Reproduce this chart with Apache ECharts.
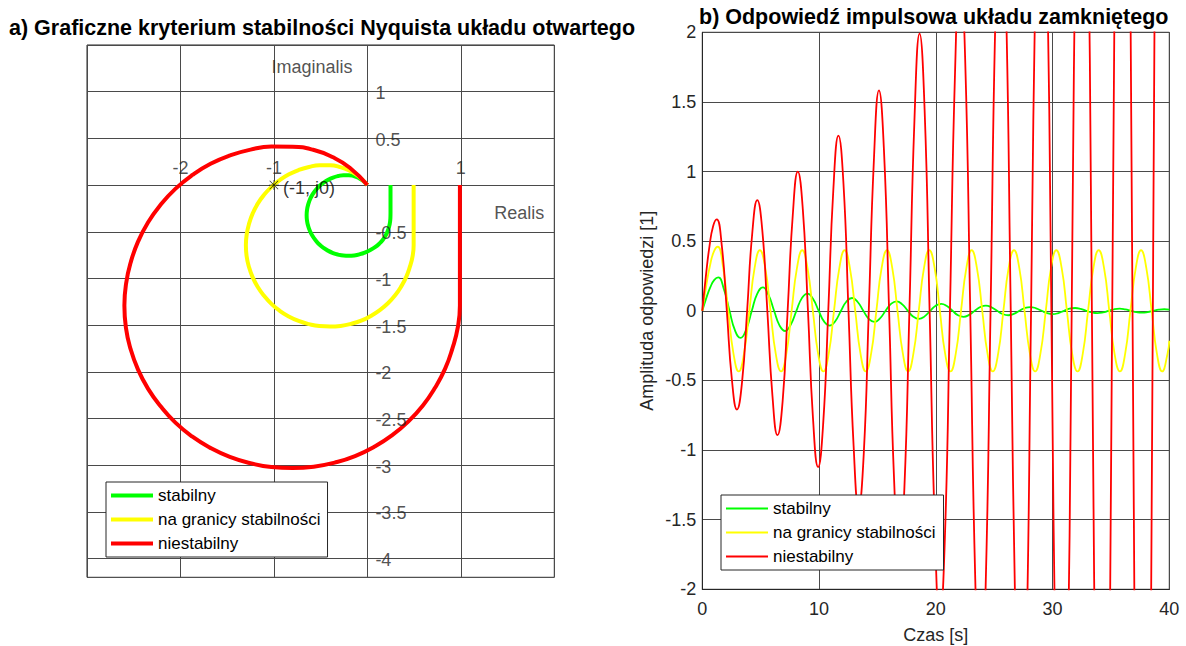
<!DOCTYPE html>
<html>
<head>
<meta charset="utf-8">
<script src="https://cdn.jsdelivr.net/npm/echarts@6/dist/echarts.min.js"></script>
<style>
html,body{margin:0;padding:0;background:#fff;}
#chart{width:1186px;height:646px;}
</style>
</head>
<body>
<div id="chart"></div>
<script>
// ---------- names / ticks ----------
const seriesNames = ['stabilny', 'na granicy stabilności', 'niestabilny'];
const nyqXTicks = [-3, -2, -1, 0, 1, 2];
const nyqXLabels = [-2, -1, 1];
const nyqYTicks = [-4, -3.5, -3, -2.5, -2, -1.5, -1, -0.5, 0, 0.5, 1, 1.5];
const nyqYLabels = [-4, -3.5, -3, -2.5, -2, -1.5, -1, -0.5, 0.5, 1];

// ---------- Nyquist curves (Re, Im) ----------
const nyqStable = [[0.2475,0],[0.2475,-0.1],[0.2475,-0.2],[0.2475,-0.3],[0.246,-0.36],[0.238,-0.42],[0.222,-0.48],[0.198,-0.535],[0.166,-0.585],[0.127,-0.628],[0.082,-0.665],[0.032,-0.695],[-0.022,-0.72],[-0.08,-0.74],[-0.14,-0.753],[-0.20,-0.7575],[-0.257,-0.755],[-0.313,-0.7445],[-0.368,-0.7275],[-0.42,-0.7035],[-0.469,-0.673],[-0.5135,-0.636],[-0.5525,-0.593],[-0.5865,-0.5455],[-0.6135,-0.494],[-0.6335,-0.4385],[-0.646,-0.3815],[-0.65,-0.3225],[-0.6455,-0.264],[-0.633,-0.2065],[-0.6135,-0.1515],[-0.5865,-0.0995],[-0.5525,-0.052],[-0.513,-0.0095],[-0.468,0.027],[-0.4195,0.0575],[-0.367,0.081],[-0.3125,0.097],[-0.2565,0.1065],[-0.20,0.1065],[-0.145,0.0965],[-0.0935,0.076],[-0.047,0.047],[0,0]];
const nyqBoundary = [[0.495,0],[0.495,-0.2],[0.495,-0.4],[0.495,-0.55],[0.495,-0.645],[0.484,-0.761],[0.455,-0.874],[0.416,-0.983],[0.362,-1.085],[0.297,-1.18],[0.22,-1.265],[0.133,-1.339],[0.037,-1.401],[-0.066,-1.451],[-0.175,-1.486],[-0.287,-1.508],[-0.40,-1.515],[-0.514,-1.51],[-0.626,-1.489],[-0.736,-1.455],[-0.84,-1.407],[-0.938,-1.346],[-1.027,-1.272],[-1.105,-1.186],[-1.173,-1.091],[-1.227,-0.988],[-1.267,-0.877],[-1.292,-0.763],[-1.30,-0.645],[-1.291,-0.528],[-1.266,-0.413],[-1.227,-0.303],[-1.173,-0.199],[-1.105,-0.104],[-1.026,-0.019],[-0.936,0.054],[-0.839,0.115],[-0.734,0.162],[-0.625,0.194],[-0.513,0.213],[-0.40,0.213],[-0.29,0.193],[-0.187,0.152],[-0.094,0.094],[0,0]];
const nyqUnstable = [[0.99,0],[0.99,-0.4],[0.99,-0.8],[0.99,-1.1],[0.99,-1.29],[0.968,-1.522],[0.91,-1.748],[0.832,-1.966],[0.724,-2.17],[0.594,-2.36],[0.44,-2.53],[0.266,-2.678],[0.074,-2.802],[-0.132,-2.902],[-0.35,-2.972],[-0.574,-3.016],[-0.80,-3.03],[-1.028,-3.02],[-1.252,-2.978],[-1.472,-2.91],[-1.68,-2.814],[-1.876,-2.692],[-2.054,-2.544],[-2.21,-2.372],[-2.346,-2.182],[-2.454,-1.976],[-2.534,-1.754],[-2.584,-1.526],[-2.60,-1.29],[-2.582,-1.056],[-2.532,-0.826],[-2.454,-0.606],[-2.346,-0.398],[-2.21,-0.208],[-2.052,-0.038],[-1.872,0.108],[-1.678,0.228],[-1.468,0.318],[-1.25,0.38],[-1.026,0.412],[-0.80,0.41],[-0.58,0.378],[-0.374,0.30],[-0.188,0.186],[0,0]];
const criticalPoint = [[-1, 0]];
const criticalLabel = '(-1, j0)';
const axisTexts = [[-1.025, 1.26, 'Imaginalis'], [1.357, -0.30, 'Realis']];

// ---------- impulse responses (t [s], y) ----------
const respStable = [[0,0],[0.34,0.091],[0.69,0.17],[1.03,0.222],[1.37,0.24],[1.85,0.155],[2.33,0],[2.80,-0.141],[3.28,-0.195],[3.76,-0.133],[4.24,0],[4.71,0.123],[5.19,0.168],[5.67,0.114],[6.15,0],[6.62,-0.106],[7.10,-0.145],[7.58,-0.098],[8.06,0],[8.53,0.091],[9.01,0.124],[9.49,0.084],[9.97,0],[10.44,-0.078],[10.92,-0.107],[11.40,-0.073],[11.88,0],[12.35,0.067],[12.83,0.092],[13.31,0.063],[13.79,0],[14.26,-0.058],[14.74,-0.079],[15.22,-0.054],[15.70,0],[16.17,0.050],[16.65,0.068],[17.13,0.046],[17.61,0],[18.08,-0.043],[18.56,-0.058],[19.04,-0.040],[19.52,0],[19.99,0.037],[20.47,0.050],[20.95,0.034],[21.43,0],[21.90,-0.032],[22.38,-0.043],[22.86,-0.029],[23.34,0],[23.81,0.027],[24.29,0.037],[24.77,0.025],[25.25,0],[25.72,-0.023],[26.20,-0.032],[26.68,-0.022],[27.16,0],[27.63,0.020],[28.11,0.027],[28.59,0.018],[29.07,0],[29.54,-0.017],[30.02,-0.024],[30.50,-0.016],[30.98,0],[31.45,0.015],[31.93,0.020],[32.41,0.014],[32.89,0],[33.36,-0.012],[33.84,-0.017],[34.32,-0.012],[34.80,0],[35.27,0.011],[35.75,0.015],[36.23,0.010],[36.71,0],[37.18,-0.009],[37.66,-0.013],[38.14,-0.009],[38.62,0],[39.09,0.008],[39.57,0.011],[40,0.008]];
const respBoundary = [[0,0],[0.33,0.176],[0.66,0.325],[0.99,0.425],[1.32,0.46],[1.77,0.32],[2.22,0],[2.67,-0.307],[3.12,-0.435],[3.57,-0.308],[4.03,0],[4.48,0.308],[4.93,0.435],[5.39,0.308],[5.84,0],[6.29,-0.308],[6.75,-0.435],[7.20,-0.308],[7.65,0],[8.11,0.308],[8.56,0.435],[9.01,0.308],[9.47,0],[9.92,-0.308],[10.37,-0.435],[10.83,-0.308],[11.28,0],[11.74,0.308],[12.19,0.435],[12.64,0.308],[13.10,0],[13.55,-0.308],[14.00,-0.435],[14.46,-0.308],[14.91,0],[15.36,0.308],[15.82,0.435],[16.27,0.308],[16.72,0],[17.18,-0.308],[17.63,-0.435],[18.08,-0.308],[18.54,0],[18.99,0.308],[19.44,0.435],[19.90,0.308],[20.35,0],[20.80,-0.308],[21.26,-0.435],[21.71,-0.308],[22.16,0],[22.62,0.308],[23.07,0.435],[23.52,0.308],[23.98,0],[24.43,-0.308],[24.88,-0.435],[25.34,-0.308],[25.79,0],[26.24,0.308],[26.70,0.435],[27.15,0.308],[27.60,0],[28.06,-0.308],[28.51,-0.435],[28.96,-0.308],[29.42,0],[29.87,0.308],[30.32,0.435],[30.78,0.308],[31.23,0],[31.68,-0.308],[32.14,-0.435],[32.59,-0.308],[33.04,0],[33.50,0.308],[33.95,0.435],[34.41,0.308],[34.86,0],[35.31,-0.308],[35.77,-0.435],[36.22,-0.308],[36.67,0],[37.13,0.308],[37.58,0.435],[38.03,0.308],[38.49,0],[38.94,-0.308],[39.39,-0.435],[39.85,-0.308],[40,-0.215]];
const respUnstable = [[0,0],[0.31,0.253],[0.62,0.467],[0.92,0.606],[1.23,0.657],[1.66,0.475],[2.10,0],[2.53,-0.49],[2.97,-0.709],[3.40,-0.516],[3.84,0],[4.27,0.548],[4.71,0.795],[5.14,0.578],[5.57,0],[6.01,-0.612],[6.44,-0.893],[6.88,-0.650],[7.31,0],[7.75,0.688],[8.18,1.0],[8.61,0.728],[9.05,0],[9.48,-0.770],[9.92,-1.122],[10.35,-0.816],[10.79,0],[11.22,0.864],[11.66,1.258],[12.09,0.916],[12.52,0],[12.96,-0.969],[13.39,-1.411],[13.83,-1.027],[14.26,0],[14.70,1.087],[15.13,1.583],[15.56,1.152],[16.00,0],[16.43,-1.219],[16.87,-1.775],[17.30,-1.292],[17.74,0],[18.17,1.367],[18.61,1.991],[19.04,1.448],[19.47,0],[19.91,-1.533],[20.34,-2.233],[20.78,-1.625],[21.21,0],[21.65,1.720],[22.08,2.505],[22.51,1.822],[22.95,0],[23.38,-1.929],[23.82,-2.810],[24.25,-2.045],[24.69,0],[25.12,2.164],[25.56,3.151],[25.99,2.293],[26.42,0],[26.86,-2.427],[27.29,-3.534],[27.73,-2.571],[28.16,0],[28.60,2.722],[29.03,3.964],[29.46,2.884],[29.90,0],[30.33,-3.053],[30.77,-4.446],[31.20,-3.235],[31.64,0],[32.07,3.425],[32.51,4.987],[32.94,3.628],[33.37,0],[33.81,-3.841],[34.24,-5.593],[34.68,-4.069],[35.11,0],[35.55,4.308],[35.98,6.273],[36.41,4.564],[36.85,0],[37.28,-4.832],[37.72,-7.036],[38.15,-5.119],[38.59,0],[39.02,5.419],[39.46,7.891],[39.89,5.741],[40,4.54]];

const FONT = "'Liberation Sans', Arial, Helvetica, sans-serif";
const TXT = '#262626';
const GRIDC = '#4a4a4a';
const asteriskPath = 'path://M9.3 0 L10.7 0 L10.7 20 L9.3 20 Z M0 9.3 L20 9.3 L20 10.7 L0 10.7 Z M2 1 L19 18 L18 19 L1 2 Z M18 1 L19 2 L2 19 L1 18 Z';

const chart = echarts.init(document.getElementById('chart'), null, {renderer: 'svg'});

function nyqLine(name, data, color) {
  return {name, type: 'line', xAxisIndex: 0, yAxisIndex: 0, data, smooth: 0.5,
    symbol: 'none', lineStyle: {color, width: 4}, itemStyle: {color}, z: 3, silent: true};
}
function respLine(name, data, color) {
  return {name, type: 'line', xAxisIndex: 1, yAxisIndex: 1, data, smooth: 0.5,
    symbol: 'none', lineStyle: {color, width: 1.8}, itemStyle: {color}, z: 3, clip: true, silent: true};
}
const legendBase = {
  orient: 'vertical', icon: 'rect', itemWidth: 42, itemGap: 7, selectedMode: false,
  backgroundColor: '#fff', borderColor: '#262626', borderWidth: 1,
  textStyle: {fontSize: 17, color: '#000', fontFamily: FONT}, data: seriesNames, z: 10
};
const tickLabelStyle = {fontSize: 18, color: TXT, fontFamily: FONT};

chart.setOption({
  animation: false,
  textStyle: {fontFamily: FONT},
  title: [
    {text: 'a) Graficzne kryterium stabilności Nyquista układu otwartego', left: 9, top: 17, padding: 0,
     textStyle: {fontSize: 21.5, fontWeight: 'bold', color: '#000', fontFamily: FONT}},
    {text: 'b) Odpowiedź impulsowa układu zamkniętego', left: 699, top: 6, padding: 0,
     textStyle: {fontSize: 21.5, fontWeight: 'bold', color: '#000', fontFamily: FONT}}
  ],
  legend: [
    Object.assign({}, legendBase, {left: 106, top: 482, itemHeight: 4, padding: [5, 7, 5, 5]}),
    Object.assign({}, legendBase, {left: 721, top: 495, itemHeight: 2, padding: [5, 8, 5, 5]})
  ],
  grid: [
    {left: 87, top: 45, width: 467.3, height: 532.3, show: true, borderColor: '#262626', borderWidth: 1,
     backgroundColor: '#fff', containLabel: false, outerBoundsMode: 'none'},
    {left: 702.3, top: 32.3, width: 467, height: 557, show: true, borderColor: '#262626', borderWidth: 1,
     backgroundColor: '#fff', containLabel: false, outerBoundsMode: 'none'}
  ],
  xAxis: [
    {gridIndex: 0, type: 'value', min: -3, max: 2, interval: 1,
     axisLine: {show: false},
     axisTick: {show: false, customValues: nyqXTicks},
     axisLabel: {show: false},
     splitLine: {show: true, lineStyle: {color: GRIDC, width: 1}}},
    {gridIndex: 1, type: 'value', min: 0, max: 40, interval: 10,
     name: 'Czas [s]', nameLocation: 'middle', nameGap: 37,
     nameTextStyle: tickLabelStyle,
     axisLine: {show: true, onZero: false, lineStyle: {color: '#262626'}},
     axisTick: {show: false},
     axisLabel: Object.assign({margin: 11}, tickLabelStyle),
     splitLine: {show: true, lineStyle: {color: GRIDC, width: 1}}}
  ],
  yAxis: [
    {gridIndex: 0, type: 'value', min: -4.2, max: 1.5,
     axisLine: {show: false},
     axisTick: {show: false, customValues: nyqYTicks},
     axisLabel: {show: false},
     splitLine: {show: true, lineStyle: {color: GRIDC, width: 1}}},
    {gridIndex: 1, type: 'value', min: -2, max: 2, interval: 0.5,
     name: 'Amplituda odpowiedzi [1]', nameLocation: 'middle', nameGap: 46, nameRotate: 90,
     nameTextStyle: tickLabelStyle,
     axisLine: {show: true, onZero: false, lineStyle: {color: '#262626'}},
     axisTick: {show: false},
     axisLabel: Object.assign({margin: 6}, tickLabelStyle),
     splitLine: {show: true, lineStyle: {color: GRIDC, width: 1}}}
  ],
  series: [
    // tick labels of the axes that cross at the origin of the Nyquist plane
    {type: 'scatter', xAxisIndex: 0, yAxisIndex: 0, silent: true, symbolSize: 0, z: 4,
     data: nyqYLabels.map(v => [0, v]),
     label: Object.assign({show: true, position: 'right', distance: 8, offset: [0, 1.5],
       formatter: p => String(p.value[1])}, tickLabelStyle)},
    {type: 'scatter', xAxisIndex: 0, yAxisIndex: 0, silent: true, symbolSize: 0, z: 4,
     data: nyqXLabels.map(v => [v, 0]),
     label: Object.assign({show: true, position: 'top', distance: 8,
       formatter: p => String(p.value[0])}, tickLabelStyle)},
    nyqLine(seriesNames[0], nyqStable, '#00ff00'),
    nyqLine(seriesNames[1], nyqBoundary, '#ffff00'),
    nyqLine(seriesNames[2], nyqUnstable, '#ff0000'),
    {type: 'scatter', xAxisIndex: 0, yAxisIndex: 0, data: criticalPoint, symbol: asteriskPath, symbolSize: 10,
     itemStyle: {color: '#000'}, z: 5, silent: true,
     label: {show: true, position: 'right', distance: 4, offset: [0, 3], formatter: criticalLabel, fontSize: 18, color: '#000', fontFamily: FONT}},
    {type: 'scatter', xAxisIndex: 0, yAxisIndex: 0, data: axisTexts, symbolSize: 0, z: 5, silent: true,
     label: {show: true, position: 'right', distance: 0, formatter: p => p.value[2], fontSize: 18, color: TXT, fontFamily: FONT}},
    respLine(seriesNames[0], respStable, '#00ff00'),
    respLine(seriesNames[1], respBoundary, '#ffff00'),
    respLine(seriesNames[2], respUnstable, '#ff0000')
  ]
});
</script>
</body>
</html>
